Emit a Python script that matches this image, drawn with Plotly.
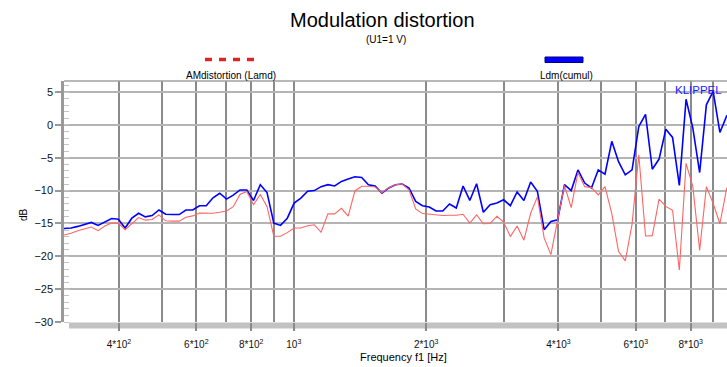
import plotly.graph_objects as go

# Frequency grid (Hz), read from vertex positions
freq = [290.0, 300.4, 311.3, 322.5, 334.1, 346.2, 358.6, 371.5, 384.9, 398.8,
        413.2, 428.0, 443.5, 459.4, 476.0, 493.3, 511.0, 529.4, 548.5, 568.2,
        588.8, 609.9, 632.0, 654.8, 678.3, 702.9, 728.1, 754.3, 781.5, 809.7,
        838.9, 869.0, 900.5, 932.7, 966.4, 1001.6, 1037.5, 1074.9, 1113.6, 1153.6,
        1195.5, 1238.3, 1283.3, 1329.4, 1377.3, 1427.1, 1478.3, 1531.4, 1586.7, 1644.0,
        1703.3, 1764.3, 1828.2, 1893.8, 1962.2, 2033.5, 2106.5, 2182.3, 2261.1, 2342.3,
        2427.2, 2514.2, 2605.5, 2699.2, 2796.3, 2897.6, 3001.4, 3109.3, 3221.5, 3337.8,
        3458.3, 3582.2, 3711.9, 3845.0, 3983.9, 4128.7, 4276.9, 4430.9, 4590.7, 4755.6,
        4928.0, 5104.8, 5290.0, 5480.3, 5677.4, 5883.0, 6093.8, 6313.0, 6540.7, 6776.9,
        7021.6, 7273.1, 7536.5, 7806.7, 8088.8, 8382.7, 8683.5, 8996.2, 9320.8, 9655.5,
        10005.6]

# Ldm (cumul), dB
ldm_cumul = [-15.85, -15.8, -15.7, -15.45, -15.15, -14.85, -15.3, -14.8, -14.25, -14.35,
             -15.7, -14.2, -13.45, -14.0, -13.8, -12.95, -13.6, -13.65, -13.65, -12.95,
             -12.95, -12.3, -12.3, -11.1, -10.4, -11.3, -10.7, -9.9, -9.9, -11.5,
             -9.1, -10.3, -14.95, -15.3, -14.2, -11.9, -11.15, -10.1, -10.0, -9.4,
             -9.1, -9.3, -8.6, -8.25, -7.9, -8.0, -9.1, -9.3, -10.4, -9.6,
             -9.1, -9.0, -9.6, -11.65, -12.3, -12.5, -13.1, -13.1, -12.05, -12.65,
             -9.3, -11.5, -8.95, -13.3, -12.15, -11.9, -11.4, -12.3, -10.2, -11.5,
             -8.7, -10.1, -15.95, -14.7, -14.45, -9.1, -10.0, -6.85, -8.85, -9.6,
             -6.85, -7.5, -2.5, -5.6, -7.6, -6.85, -0.25, 1.6, -6.75, -5.2,
             -0.65, -1.9, -9.2, 3.9, -0.5, -7.25, 3.05, 5.1, -1.15, 1.35,
             1.6]

# AM distortion (Lamd), dB
lamd = [-17.0, -16.8, -16.5, -16.1, -15.8, -15.55, -16.1, -15.4, -14.95, -14.95,
        -15.95, -14.95, -14.1, -14.5, -14.4, -13.7, -14.6, -14.65, -14.65, -14.05,
        -13.85, -13.4, -13.45, -13.45, -13.3, -13.1, -12.45, -10.6, -10.15, -12.15,
        -10.6, -12.4, -16.95, -16.95, -16.4, -15.7, -15.7, -15.35, -15.2, -16.35,
        -13.55, -13.55, -12.7, -13.9, -10.05, -9.35, -9.35, -9.45, -10.35, -9.55,
        -9.1, -9.0, -9.9, -12.8, -13.5, -13.6, -13.6, -13.8, -13.75, -13.75,
        -13.6, -14.95, -13.7, -15.05, -15.0, -13.9, -14.8, -17.0, -15.4, -17.55,
        -13.45, -10.95, -17.2, -19.75, -14.45, -9.2, -12.6, -7.25, -9.4, -9.55,
        -10.65, -9.4, -13.5, -19.25, -20.7, -15.1, -4.55, -16.9, -16.85, -11.3,
        -12.4, -13.0, -22.1, -5.85, -9.4, -19.1, -9.4, -11.95, -15.05, -9.7,
        -8.0]

x_major = [400, 600, 800, 1000, 2000, 4000, 6000, 8000]
x_major_text = ["4*10<sup>2</sup>", "6*10<sup>2</sup>", "8*10<sup>2</sup>", "10<sup>3</sup>",
                "2*10<sup>3</sup>", "4*10<sup>3</sup>", "6*10<sup>3</sup>", "8*10<sup>3</sup>"]
x_minor = [500, 700, 900, 3000, 5000, 7000, 9000]
y_ticks = [-30, -25, -20, -15, -10, -5, 0, 5]

FONT = "Liberation Sans, Arial, sans-serif"

fig = go.Figure()
fig.add_trace(go.Scatter(x=freq, y=ldm_cumul, mode="lines",
                         line=dict(color="#0000ff", width=1.6), hoverinfo="skip"))
fig.add_trace(go.Scatter(x=freq, y=lamd, mode="lines",
                         line=dict(color="#ff6464", width=1.1), hoverinfo="skip"))

W, H = 727, 367
L, R, T, B = 64, 0, 81, 45
PW, PH = W - L - R, H - T - B

def px(xp):
    return (xp - L) / PW

def py(yp):
    return 1 - (yp - T) / PH

fig.update_layout(
    width=W, height=H,
    margin=dict(l=L, r=R, t=T, b=B),
    paper_bgcolor="white", plot_bgcolor="white",
    showlegend=False, hovermode=False,
    font=dict(family=FONT, color="#111"),
    xaxis=dict(
        type="log", range=[2.4771, 3.9856],
        tickmode="array", tickvals=x_major, ticktext=x_major_text,
        tickfont=dict(size=10, color="#111"),
        ticks="outside", ticklen=8, tickwidth=1.5, tickcolor="#8a8a8a",
        ticklabelstandoff=5,
        showgrid=True, gridcolor="#8a8a8a", gridwidth=1.5,
        minor=dict(tickmode="array", tickvals=x_minor, showgrid=True,
                   gridcolor="#8a8a8a", gridwidth=1.5, ticks=""),
        showline=False, zeroline=False, fixedrange=True,
    ),
    yaxis=dict(
        range=[-30, 6.68],
        tickmode="array", tickvals=y_ticks,
        tickfont=dict(size=11, color="#111"),
        ticks="outside", ticklen=6, tickwidth=1.5, tickcolor="#999",
        showgrid=True, gridcolor="#b4b4b4", gridwidth=1.5,
        minor=dict(dtick=1, ticks="inside", ticklen=5, tickwidth=1,
                   tickcolor="#c4c4c4", showgrid=False),
        showline=True, linecolor="#999", linewidth=2.5,
        zeroline=False, fixedrange=True,
    ),
)

shapes = [
    # bottom bar (axis)
    dict(type="rect", xref="paper", yref="paper", x0=px(69), x1=1.0,
         y0=py(328.5), y1=py(322.5), fillcolor="#c2c2c2", line=dict(width=0), layer="below"),
    # top frame line
    dict(type="line", xref="paper", yref="paper", x0=0, x1=1, y0=1, y1=1,
         line=dict(color="#a0a0a0", width=1.5)),
    # legend: dashed red
    dict(type="line", xref="paper", yref="paper", x0=px(205), x1=px(254),
         y0=py(59.5), y1=py(59.5), line=dict(color="#e02424", width=3.5, dash="7px,7px")),
    # legend: blue bar
    dict(type="rect", xref="paper", yref="paper", x0=px(545), x1=px(583),
         y0=py(62.5), y1=py(57), fillcolor="#0000ff", line=dict(color="#00008a", width=1)),
]
fig.update_layout(shapes=shapes)

ann = [
    dict(text="Modulation distortion", x=px(382), y=py(20), font=dict(size=20, color="#000")),
    dict(text="(U1=1 V)", x=px(386), y=py(40), font=dict(size=10, color="#000")),
    dict(text="AMdistortion (Lamd)", x=px(231), y=py(75), font=dict(size=10, color="#000")),
    dict(text="Ldm(cumul)", x=px(566), y=py(75), font=dict(size=10, color="#000")),
    dict(text="KLIPPEL", x=px(698.5), y=py(90), font=dict(size=11.5, color="#1a1aff")),
    dict(text="Frequency f1 [Hz]", x=px(404), y=py(357), font=dict(size=11, color="#000")),
    dict(text="dB", x=px(23), y=py(215), textangle=-90, font=dict(size=10, color="#000")),
]
for a in ann:
    a.update(xref="paper", yref="paper", showarrow=False, xanchor="center", yanchor="middle")
fig.update_layout(annotations=ann)

fig.write_html("out.html", config={"displayModeBar": False},
               post_script="document.body.style.margin='0';")
